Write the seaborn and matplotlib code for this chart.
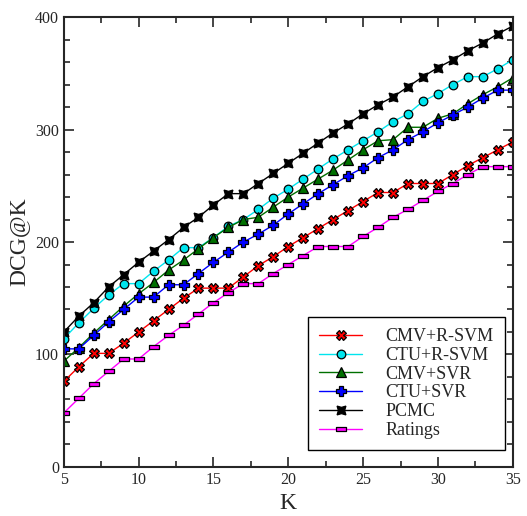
import numpy as np
import pandas as pd
import matplotlib
matplotlib.use("Agg")
import matplotlib.pyplot as plt
import seaborn as sns
from matplotlib.ticker import MultipleLocator

# values
k = list(range(5, 36))
cmv_rsvm = [76, 89, 101, 101, 110, 120, 130, 140, 150, 159, 159, 159, 169, 179, 187, 196,
            204, 212, 220, 228, 236, 244, 244, 252, 252, 252, 260, 268, 275, 282, 289]
ctu_rsvm = [114, 128, 141, 153, 163, 163, 174, 184, 195, 195, 204, 214, 220, 229, 239, 247,
            256, 265, 274, 282, 290, 298, 307, 314, 325, 332, 340, 347, 347, 354, 362]
cmv_svr = [94, 106, 119, 131, 143, 154, 164, 175, 184, 194, 204, 213, 220, 222, 231, 240,
           248, 256, 264, 273, 282, 290, 291, 302, 302, 310, 314, 323, 331, 338, 346]
ctu_svr = [105, 105, 117, 129, 140, 151, 151, 162, 162, 172, 182, 191, 200, 207, 215, 225,
           234, 243, 251, 259, 266, 275, 282, 291, 298, 306, 313, 320, 328, 335, 335]
pcmc = [120, 134, 146, 160, 171, 182, 192, 202, 213, 222, 233, 243, 243, 252, 261, 270,
        279, 288, 297, 305, 314, 322, 329, 338, 347, 355, 362, 370, 377, 385, 392]
ratings = [48, 61, 74, 85, 96, 96, 107, 117, 126, 136, 146, 155, 163, 163, 172, 180,
           188, 196, 196, 196, 205, 213, 222, 229, 237, 245, 252, 260, 267, 267, 267]

sns.set_style("ticks")
plt.rcParams['font.family'] = ['Liberation Serif', 'DejaVu Serif']

rect = [(-1, -0.5), (1, -0.5), (1, 0.5), (-1, 0.5), (-1, -0.5)]
series = [
    ("CMV+R-SVM", cmv_rsvm, "#ff0000", "X", 7),
    ("CTU+R-SVM", ctu_rsvm, "#00e5ee", "o", 6.2),
    ("CMV+SVR", cmv_svr, "#007000", "^", 6.5),
    ("CTU+SVR", ctu_svr, "#0000ff", "P", 7),
    ("PCMC", pcmc, "#000000", (4, 1, 45), 9),
    ("Ratings", ratings, "#ff00ff", rect, 6.5),
]

fig = plt.figure(figsize=(5.27, 5.16), dpi=100)
ax = fig.add_axes([0.121, 0.095, 0.852, 0.872])

for name, vals, col, mk, ms in series:
    df = pd.DataFrame({"K": k, "DCG": vals})
    sns.lineplot(data=df, x="K", y="DCG", ax=ax, color=col, marker=mk, markersize=ms,
                 markeredgecolor="black", markeredgewidth=0.9, markerfacecolor=col,
                 linewidth=1.0, label=name)

ax.set_xlim(5, 35)
ax.set_ylim(0, 400)
ax.xaxis.set_major_locator(MultipleLocator(5))
ax.xaxis.set_minor_locator(MultipleLocator(2.5))
ax.yaxis.set_major_locator(MultipleLocator(100))
ax.yaxis.set_minor_locator(MultipleLocator(20))
ax.tick_params(which="both", direction="in", top=True, right=True, labelsize=11.5, width=1.2)
ax.tick_params(which="major", length=7)
ax.tick_params(which="minor", length=4)
for s in ax.spines.values():
    s.set_linewidth(1.5)
ax.set_xlabel("K", fontsize=17, labelpad=4)
ax.set_ylabel("DCG@K", fontsize=17, labelpad=4)

leg = ax.legend(loc="lower right", bbox_to_anchor=(0.982, 0.038), borderaxespad=0,
                fontsize=13, frameon=True, fancybox=False, edgecolor="black", framealpha=1,
                labelspacing=0.1, handlelength=2.4, handletextpad=1.3, borderpad=0.6)
leg.get_frame().set_linewidth(1.0)

fig.savefig("out.png", dpi=100)
